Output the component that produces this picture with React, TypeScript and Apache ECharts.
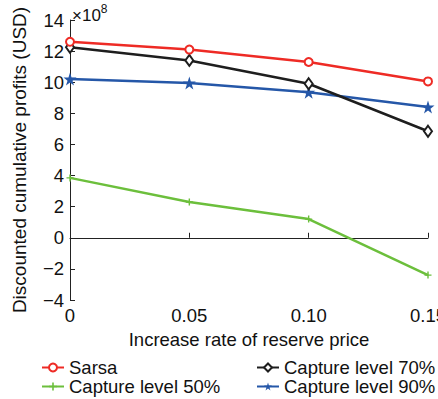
import React, { useEffect, useRef } from "react";
import * as echarts from "echarts";

const xValues = [0, 0.05, 0.1, 0.15];
const sarsa = [12.6, 12.1, 11.3, 10.05];
const capture70 = [12.25, 11.4, 9.9, 6.85];
const capture50 = [3.85, 2.3, 1.2, -2.4];
const capture90 = [10.2, 9.95, 9.35, 8.4];
const seriesNames = ["Sarsa", "Capture level 50%", "Capture level 70%", "Capture level 90%"];
const yTitle = "Discounted cumulative profits (USD)";
const xTitle = "Increase rate of reserve price";

const FONT = "'Liberation Sans', Arial, sans-serif";
const STAR = "path://M50,0 L61.2,34.5 L97.6,34.5 L68.2,55.9 L79.4,90.5 L50,69.1 L20.6,90.5 L31.8,55.9 L2.4,34.5 L38.8,34.5 Z";
const PLUS = "path://M4,0H6V4H10V6H6V10H4V6H0V4H4Z";

export default function App() {
  const ref = useRef<HTMLDivElement>(null);
  useEffect(() => {
    if (!ref.current) return;
    const chart = echarts.init(ref.current, undefined, { renderer: "svg" });
    const toPts = (arr: number[]) => arr.map((v, i) => [xValues[i], v]);
    const legendText = { fontFamily: FONT, fontSize: 18.5, color: "#111" };
    const legendPos = [
      { left: 41, top: 358 },
      { left: 41, top: 377 },
      { left: 256, top: 358 },
      { left: 256, top: 377 },
    ];
    chart.setOption({
      animation: false,
      backgroundColor: "#fff",
      grid: { left: 70, top: 20, right: 10, bottom: 99, outerBoundsMode: "none", containLabel: false },
      xAxis: {
        type: "value",
        min: 0,
        max: 0.15,
        interval: 0.05,
        name: xTitle,
        nameLocation: "middle",
        nameGap: 27,
        nameTextStyle: { fontFamily: FONT, fontSize: 18.5, color: "#111" },
        axisLine: { lineStyle: { color: "#222", width: 1 } },
        axisTick: { inside: true, length: 5, lineStyle: { color: "#222" } },
        axisLabel: {
          fontFamily: FONT,
          fontSize: 18.5,
          color: "#111",
          margin: 6,
          formatter: (v: number) => (v === 0 ? "0" : v.toFixed(2)),
        },
        splitLine: { show: false },
      },
      yAxis: {
        type: "value",
        min: -4,
        max: 14,
        interval: 2,
        name: yTitle,
        nameLocation: "middle",
        nameGap: 41,
        nameTextStyle: { fontFamily: FONT, fontSize: 19, color: "#111" },
        axisLine: { show: true, lineStyle: { color: "#222", width: 1 } },
        axisTick: { show: true, inside: true, length: 5, lineStyle: { color: "#222" } },
        axisLabel: {
          fontFamily: FONT,
          fontSize: 18.5,
          color: "#111",
          margin: 6,
          formatter: (v: number) => String(v).replace("-", "\u2212"),
        },
        splitLine: { show: false },
      },
      legend: seriesNames.map((n, i) => ({
        orient: "horizontal",
        left: legendPos[i].left,
        top: legendPos[i].top,
        itemWidth: 22,
        itemHeight: 10,
        padding: 0,
        textStyle: legendText,
        data: [n],
      })),
      graphic: [
        {
          type: "text",
          left: 72,
          top: 3,
          style: {
            text: "{a|\u00d710}{b|8}",
            rich: {
              a: { fontFamily: FONT, fontSize: 17, fill: "#111", verticalAlign: "bottom" },
              b: { fontFamily: FONT, fontSize: 12, fill: "#111", verticalAlign: "top", padding: [0, 0, 9, 0] },
            },
          },
        },
      ],
      series: [
        {
          name: seriesNames[0],
          type: "line",
          data: toPts(sarsa),
          symbol: "emptyCircle",
          symbolSize: 8,
          lineStyle: { color: "#ee2b25", width: 2.5 },
          itemStyle: { color: "#ee2b25", borderWidth: 2 },
          z: 4,
        },
        {
          name: seriesNames[1],
          type: "line",
          data: toPts(capture50),
          symbol: PLUS,
          symbolSize: 7,
          lineStyle: { color: "#6cbf3c", width: 2.5 },
          itemStyle: { color: "#6cbf3c" },
          z: 3,
        },
        {
          name: seriesNames[2],
          type: "line",
          data: toPts(capture70),
          symbol: "emptyDiamond",
          symbolSize: [8, 11],
          lineStyle: { color: "#1e1e1e", width: 2.5 },
          itemStyle: { color: "#1e1e1e", borderWidth: 2 },
          z: 3,
        },
        {
          name: seriesNames[3],
          type: "line",
          data: toPts(capture90),
          symbol: STAR,
          symbolSize: 13,
          lineStyle: { color: "#2557a8", width: 2.5 },
          itemStyle: { color: "#2557a8" },
          z: 2,
        },
      ],
    });
    return () => chart.dispose();
  }, []);
  return (
    <div
      ref={ref}
      style={{ position: "fixed", left: 0, top: 0, width: 438, height: 399, background: "#fff" }}
    />
  );
}
